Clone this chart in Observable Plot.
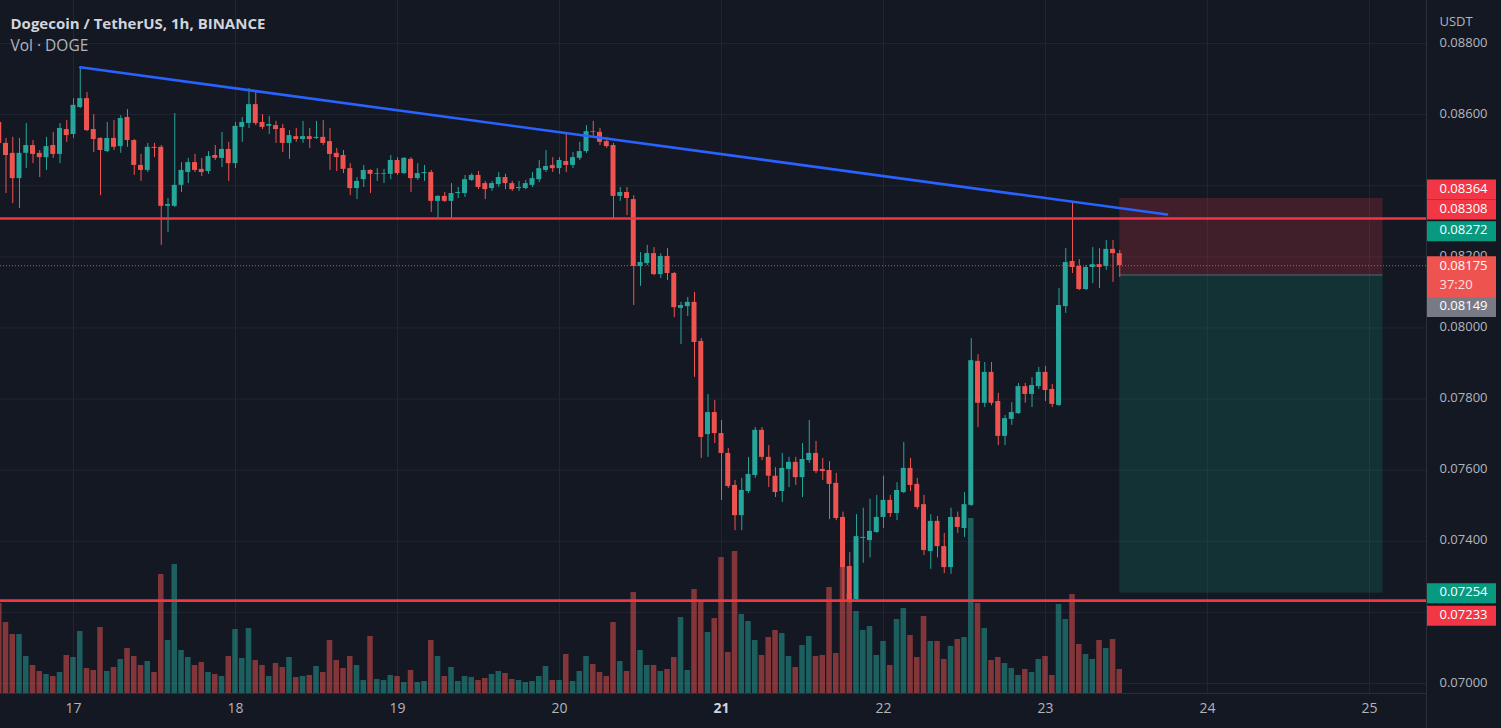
<!DOCTYPE html>
<html><head><meta charset="utf-8">
<script src="https://cdn.jsdelivr.net/npm/d3@7"></script>
<script src="https://cdn.jsdelivr.net/npm/@observablehq/plot@0.6"></script>
<style>
html,body{margin:0;padding:0;background:#141823;overflow:hidden}
#chart{position:relative;width:1501px;height:728px}
</style></head><body><div id="chart"></div>
<script>
// ---- data (1h candles, hour 0 = day 17 00:00) ----
const firstHour = -11;
const open = [0.08578,0.08519,0.08491,0.08420,0.08491,0.08513,0.08491,0.08479,0.08513,0.08488,0.08558,
0.08544,0.08620,0.08645,0.08558,0.08533,0.08496,0.08533,0.08510,0.08592,0.08527,0.08457,0.08443,0.08508,0.08508,0.08342,0.08342,0.08401,0.08437,0.08465,0.08446,0.08440,0.08485,0.08477,0.08502,
0.08462,0.08564,0.08575,0.08628,0.08578,0.08567,0.08569,0.08561,0.08519,0.08538,0.08530,0.08538,0.08533,0.08536,0.08524,0.08491,0.08485,0.08448,0.08392,0.08417,0.08443,0.08432,0.08432,0.08432,
0.08471,0.08434,0.08474,0.08420,0.08434,0.08437,0.08356,0.08370,0.08356,0.08378,0.08378,0.08415,0.08429,0.08406,0.08392,0.08403,0.08423,0.08406,0.08392,0.08392,0.08401,0.08417,0.08443,0.08457,
0.08448,0.08468,0.08457,0.08477,0.08496,0.08552,0.08550,0.08524,0.08513,0.08370,0.08381,0.08361,0.08173,0.08181,0.08209,0.08150,0.08201,0.08153,0.08055,0.08060,0.08072,0.07962,0.07700,0.07762,
0.07703,0.07647,0.07557,0.07472,0.07540,0.07585,0.07712,0.07636,0.07583,0.07540,0.07602,0.07622,0.07579,0.07627,0.07647,0.07602,0.07599,0.07563,0.07467,0.07329,0.07236,0.07408,0.07402,0.07425,
0.07467,0.07515,0.07478,0.07537,0.07605,0.07560,0.07503,0.07371,0.07456,0.07385,0.07326,0.07467,0.07436,0.07501,0.07906,0.07788,0.07875,0.07793,0.07695,0.07743,0.07759,0.07835,0.07813,0.07835,
0.07875,0.07827,0.07782,0.08060,0.08187,0.08173,0.08108,0.08170,0.08178,0.08173,0.08221,0.08209];
const high = [0.08589,0.08533,0.08536,0.08533,0.08575,0.08527,0.08499,0.08536,0.08550,0.08575,0.08583,
0.08645,0.08733,0.08662,0.08600,0.08535,0.08578,0.08583,0.08597,0.08614,0.08530,0.08488,0.08519,0.08519,0.08513,0.08364,0.08603,0.08465,0.08477,0.08488,0.08477,0.08496,0.08513,0.08550,0.08522,
0.08578,0.08592,0.08673,0.08662,0.08600,0.08595,0.08581,0.08572,0.08555,0.08561,0.08581,0.08561,0.08581,0.08583,0.08561,0.08505,0.08499,0.08462,0.08423,0.08457,0.08445,0.08448,0.08446,0.08485,
0.08479,0.08479,0.08479,0.08462,0.08457,0.08443,0.08372,0.08381,0.08406,0.08395,0.08429,0.08434,0.08440,0.08412,0.08412,0.08437,0.08432,0.08412,0.08412,0.08415,0.08437,0.08471,0.08499,0.08479,
0.08479,0.08550,0.08493,0.08522,0.08569,0.08581,0.08561,0.08536,0.08519,0.08395,0.08395,0.08372,0.08212,0.08232,0.08226,0.08209,0.08223,0.08156,0.08072,0.08086,0.08100,0.07970,0.07813,0.07796,
0.07740,0.07661,0.07571,0.07577,0.07636,0.07720,0.07720,0.07669,0.07607,0.07647,0.07636,0.07636,0.07675,0.07740,0.07681,0.07633,0.07624,0.07591,0.07482,0.07368,0.07475,0.07493,0.07518,0.07529,
0.07583,0.07529,0.07565,0.07678,0.07633,0.07577,0.07529,0.07475,0.07470,0.07422,0.07493,0.07482,0.07537,0.07970,0.07925,0.07903,0.07903,0.07816,0.07754,0.07790,0.07844,0.07844,0.07860,0.07889,
0.07892,0.07841,0.08111,0.08223,0.08353,0.08192,0.08176,0.08226,0.08223,0.08246,0.08246,0.08218];
const low = [0.08510,0.08378,0.08350,0.08336,0.08448,0.08462,0.08423,0.08443,0.08477,0.08462,0.08522,
0.08533,0.08617,0.08552,0.08493,0.08372,0.08493,0.08499,0.08491,0.08508,0.08429,0.08412,0.08437,0.08479,0.08232,0.08268,0.08339,0.08381,0.08406,0.08437,0.08426,0.08432,0.08471,0.08451,0.08412,
0.08448,0.08522,0.08561,0.08569,0.08558,0.08544,0.08519,0.08493,0.08474,0.08522,0.08519,0.08505,0.08530,0.08513,0.08443,0.08440,0.08434,0.08372,0.08361,0.08395,0.08378,0.08412,0.08406,0.08417,
0.08429,0.08432,0.08381,0.08415,0.08412,0.08325,0.08308,0.08353,0.08308,0.08364,0.08367,0.08412,0.08389,0.08361,0.08384,0.08395,0.08389,0.08384,0.08384,0.08389,0.08395,0.08409,0.08437,0.08437,
0.08432,0.08437,0.08448,0.08471,0.08491,0.08536,0.08513,0.08505,0.08305,0.08356,0.08316,0.08063,0.08117,0.08175,0.08147,0.08139,0.08133,0.08029,0.07953,0.08032,0.07861,0.07633,0.07636,0.07675,
0.07515,0.07548,0.07430,0.07430,0.07534,0.07577,0.07627,0.07551,0.07523,0.07509,0.07551,0.07557,0.07523,0.07619,0.07590,0.07571,0.07461,0.07458,0.07233,0.07225,0.07233,0.07338,0.07353,0.07422,
0.07436,0.07467,0.07458,0.07534,0.07540,0.07489,0.07360,0.07321,0.07353,0.07309,0.07307,0.07422,0.07411,0.07498,0.07720,0.07776,0.07781,0.07669,0.07669,0.07726,0.07757,0.07788,0.07776,0.07827,
0.07793,0.07776,0.07779,0.08041,0.08153,0.08105,0.08105,0.08125,0.08111,0.08162,0.08128,0.08142];
const close = [0.08519,0.08485,0.08420,0.08491,0.08513,0.08488,0.08479,0.08510,0.08488,0.08561,0.08541,
0.08626,0.08645,0.08555,0.08530,0.08499,0.08533,0.08508,0.08589,0.08527,0.08457,0.08443,0.08508,0.08505,0.08342,0.08347,0.08401,0.08443,0.08465,0.08443,0.08437,0.08482,0.08477,0.08502,0.08462,
0.08567,0.08578,0.08628,0.08575,0.08564,0.08572,0.08558,0.08519,0.08541,0.08530,0.08538,0.08530,0.08536,0.08519,0.08488,0.08479,0.08446,0.08392,0.08412,0.08443,0.08432,0.08434,0.08434,0.08471,
0.08434,0.08477,0.08420,0.08434,0.08437,0.08356,0.08370,0.08356,0.08378,0.08381,0.08417,0.08429,0.08395,0.08389,0.08406,0.08423,0.08406,0.08389,0.08395,0.08406,0.08420,0.08448,0.08454,0.08448,
0.08471,0.08457,0.08479,0.08496,0.08552,0.08550,0.08522,0.08510,0.08370,0.08381,0.08364,0.08173,0.08184,0.08209,0.08150,0.08201,0.08153,0.08057,0.08063,0.08072,0.07959,0.07692,0.07762,0.07703,
0.07647,0.07554,0.07472,0.07543,0.07588,0.07712,0.07636,0.07583,0.07537,0.07605,0.07622,0.07579,0.07630,0.07647,0.07596,0.07596,0.07560,0.07464,0.07326,0.07233,0.07413,0.07411,0.07428,0.07467,
0.07515,0.07478,0.07543,0.07605,0.07557,0.07495,0.07374,0.07456,0.07385,0.07326,0.07467,0.07439,0.07503,0.07908,0.07788,0.07875,0.07788,0.07695,0.07745,0.07762,0.07835,0.07813,0.07838,0.07875,
0.07824,0.07785,0.08063,0.08184,0.08170,0.08108,0.08170,0.08178,0.08170,0.08221,0.08209,0.08175];
const volume = [90,71,59,59,37,28,22,19,17,21,38,
36,62,25,23,66,22,26,34,45,37,28,32,21,119,53,129,43,36,28,31,21,19,17,37,
64,35,65,33,28,17,30,26,36,16,17,18,27,21,53,33,25,37,28,13,57,14,13,18,
17,11,23,11,12,53,37,17,26,12,17,16,13,15,19,22,20,14,13,11,12,17,27,13,
13,39,12,22,37,29,21,17,71,32,22,101,43,28,28,22,24,36,76,23,104,91,61,75,
136,41,142,79,72,53,38,56,63,60,37,26,48,57,37,38,106,40,126,100,82,63,67,38,
52,28,74,85,58,36,77,52,52,34,47,54,56,175,90,65,33,36,30,25,18,24,21,34,
37,18,89,74,99,49,39,34,53,45,54,24];

const dayLabels = [17,18,19,20,21,22,23,24,25];
const boldDay = 21;
const priceTicks = [0.070,0.072,0.074,0.076,0.078,0.080,0.082,0.084,0.086,0.088];
const hiddenTickLabels = [0.072, 0.084]; // covered by the price badges
const hLines = [0.08308, 0.07233];
const lastPrice = 0.08175;
const countdown = "37:20";
const trendHours = [1, 162];
const trendPrices = [0.08733, 0.08319];
const posHours = [155, 194];
const posEntry = 0.08149, posStop = 0.08364, posTarget = 0.07254;
const otherLabels = [
  {text:"0.08364", price:0.08364, fill:"#f23645", dy:-9},
  {text:"0.08308", price:0.08308, fill:"#f23645", dy:-9},
  {text:"0.08272", price:0.08272, fill:"#089981", dy:0},
  {text:"0.08149", price:0.08149, fill:"#787b86", dy:32},
  {text:"0.07254", price:0.07254, fill:"#089981", dy:0},
  {text:"0.07233", price:0.07233, fill:"#f23645", dy:15}
];

// ---- build ----
const UP = "#26a69a", DN = "#ef5350";
const bars = open.map((o, i) => ({
  h: firstHour + i, o, hi: high[i], l: low[i], c: close[i], v: volume[i],
  up: close[i] >= o
}));
const xDom = [-10.815, 200.44];
const yLo = 0.069719, yHi = 0.089209;
const volScale = d3.scaleLinear().domain([0, d3.max(volume)]).range([yLo, yLo + (yHi - yLo) * 0.2525]);
const xBadgeEnd = xDom[1] + 70 / 6.75;
const txt = "#b2b5be", grid = "#222632";
const fmt = d3.format(".5f");

const badgeMarks = otherLabels.flatMap(b => [
  Plot.ruleY([b.price], {x1: xDom[1], x2: xBadgeEnd, stroke: b.fill, strokeWidth: 20, dy: b.dy}),
  Plot.text([b.text], {y: () => b.price, frameAnchor: "right", textAnchor: "start", dx: 13, dy: b.dy - 1, fill: "#ffffff"})
]);

const chart = Plot.plot({
  width: 1501, height: 728,
  marginLeft: 0, marginRight: 75, marginTop: 0, marginBottom: 35,
  style: {background: "#141823", color: txt, fontFamily: "'Open Sans', 'DejaVu Sans', sans-serif", fontSize: "13px"},
  x: {domain: xDom, axis: null},
  y: {domain: [yLo, yHi], axis: null},
  marks: [
    Plot.ruleX(dayLabels, {x: d => (d - 17) * 24, stroke: grid}),
    Plot.ruleY(priceTicks, {stroke: grid}),
    // volume
    Plot.rect(bars, {x1: d => d.h - 0.41, x2: d => d.h + 0.41, y1: yLo, y2: d => volScale(d.v),
      fill: d => d.up ? UP : DN, fillOpacity: 0.5}),
    // wicks
    Plot.ruleX(bars, {x: "h", y1: "l", y2: "hi", stroke: d => d.up ? UP : DN, strokeWidth: 1}),
    // bodies
    Plot.rect(bars, {x1: d => d.h - 0.37, x2: d => d.h + 0.37,
      y1: d => Math.min(d.o, d.c), y2: d => Math.max(d.o, d.c), fill: d => d.up ? UP : DN}),
    // position tool
    Plot.rect([0], {x1: posHours[0], x2: posHours[1], y1: posEntry, y2: posStop, fill: "#f23645", fillOpacity: 0.2}),
    Plot.rect([0], {x1: posHours[0], x2: posHours[1], y1: posTarget, y2: posEntry, fill: "#089981", fillOpacity: 0.2}),
    Plot.ruleY([posEntry], {x1: posHours[0], x2: posHours[1], stroke: "#787b86", strokeOpacity: 0.7}),
    // horizontal levels
    Plot.ruleY(hLines, {stroke: "#f23645", strokeWidth: 2.6}),
    // last price line
    Plot.ruleY([lastPrice], {stroke: "#ef5350", strokeDasharray: "1,2", strokeOpacity: 0.9}),
    // trend line
    Plot.line(trendHours.map((h, i) => ({h, p: trendPrices[i]})), {x: "h", y: "p", stroke: "#2962ff", strokeWidth: 2.6}),
    // right axis labels
    Plot.text(priceTicks.filter(t => !hiddenTickLabels.includes(t)), {y: d => d, text: d => fmt(d), frameAnchor: "right", textAnchor: "start", dx: 13, dy: -1, fill: txt}),
    Plot.text(["USDT"], {frameAnchor: "top-right", textAnchor: "start", dx: 13, dy: 16, fill: txt}),
    // bottom axis labels
    Plot.text(dayLabels.filter(d => d !== boldDay), {x: d => (d - 17) * 24, text: d => String(d), frameAnchor: "bottom", dy: 19, fontSize: 14, fill: txt}),
    Plot.text([boldDay], {x: d => (d - 17) * 24, text: d => String(d), frameAnchor: "bottom", dy: 19, fontSize: 14, fill: "#d1d4dc", fontWeight: 700}),
    // badges
    ...badgeMarks,
    Plot.ruleY([lastPrice], {x1: xDom[1], x2: xBadgeEnd, stroke: "#ef5350", strokeWidth: 41, dy: 11}),
    Plot.text([fmt(lastPrice)], {y: () => lastPrice, frameAnchor: "right", textAnchor: "start", dx: 13, dy: 0, fill: "#ffffff"}),
    Plot.text([countdown], {y: () => lastPrice, frameAnchor: "right", textAnchor: "start", dx: 13, dy: 19, fill: "#ffe0e0"}),
    // legend text
    Plot.text(["Dogecoin / TetherUS, 1h, BINANCE"], {frameAnchor: "top-left", textAnchor: "start", dx: 10, dy: 18, fontSize: 15, fontWeight: 700, fill: "#d1d4dc"}),
    Plot.text(["Vol · DOGE"], {frameAnchor: "top-left", textAnchor: "start", dx: 10, dy: 39, fontSize: 15.5, fill: "#b2b5be"})
  ]
});

// pane separators
const svg = d3.select(chart);
svg.append("line").attr("x1", 1426.5).attr("x2", 1426.5).attr("y1", 0).attr("y2", 728).attr("stroke", "#2a2e39");
svg.append("line").attr("x1", 0).attr("x2", 1426).attr("y1", 693.5).attr("y2", 693.5).attr("stroke", "#2a2e39");
document.getElementById("chart").appendChild(chart);
</script>
</body></html>
